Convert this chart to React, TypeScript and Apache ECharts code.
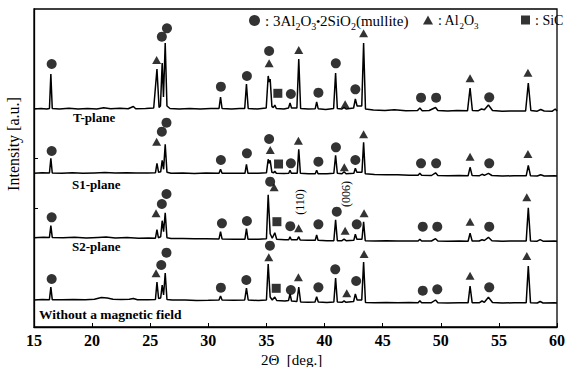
import React, { useEffect, useRef } from "react";
import * as echarts from "echarts";

// ---------- data ----------
const X_MIN = 15;
const X_MAX = 60;
const X_STEP = 5;
const Y_MAX = 318;

const TRACE_NAMES = ["T-plane", "S1-plane", "S2-plane", "Without a magnetic field"];
const TRACE_OFFSETS = [218, 153.7, 89.3, 27];

// relative intensity [2θ, a.u.] for each pattern
const T_PTS: [number, number][] = [
  [15.0, 0], [15.6, 0.6], [16.1, 0], [16.33, 0.5], [16.45, 35], [16.57, 0.5], [17.2, 0], [18.0, 0.7], [18.8, 0],
  [19.6, 0.6], [20.4, 0], [21.0, 1.2], [21.6, 0.3], [22.4, 0.8], [23.1, 0.2], [23.55, 2.5], [23.75, 0.3], [24.6, 0.6],
  [25.3, 1], [25.58, 40], [25.76, 1.5], [25.88, 3], [26.03, 46], [26.14, 12], [26.29, 66], [26.44, 3], [26.7, 0.5],
  [27.5, 0], [28.4, 0.6], [29.3, 0], [30.2, 0.5], [30.92, 0.5], [31.05, 12], [31.18, 0.5], [32.0, 0], [32.7, 0.5],
  [33.13, 0.5], [33.28, 25], [33.43, 0.5], [34.2, 0], [34.98, 1], [35.15, 33], [35.24, 27], [35.32, 30], [35.47, 2.5],
  [35.6, 1.5], [35.72, 4], [35.85, 0.5], [36.5, 0], [36.9, 1], [37.03, 6], [37.16, 1], [37.62, 1], [37.78, 50],
  [37.94, 0.5], [38.6, 0], [39.2, 0.3], [39.32, 7], [39.45, 0.3], [40.1, -0.5], [40.78, 0.5], [40.95, 36], [41.1, 0.5],
  [41.5, 0], [41.68, 1.5], [41.85, 0], [42.5, 1], [42.65, 10], [42.8, 3], [43.2, 3], [43.36, 66], [43.52, 0],
  [44.2, -1], [45.2, -1.5], [46.0, -0.8], [47.0, -1.8], [48.0, -1.5], [48.2, 1], [48.4, -1.8], [49.0, -1.5],
  [49.55, 1.5], [49.75, -1.5], [50.6, -2], [51.4, -1.5], [52.3, -1.8], [52.52, 21], [52.72, -1.5], [53.2, -1.8],
  [53.5, 0], [53.75, -0.8], [54.1, 4], [54.45, -1.5], [55.3, -2.2], [56.3, -2], [57.3, -2], [57.53, 26],
  [57.75, -1.5], [58.3, -2.2], [58.6, -0.5], [58.9, -2], [59.6, -2.2], [59.85, 0], [60, -2],
];
const S1_PTS: [number, number][] = [
  [15, 0], [15.7, 0.5], [16.33, 0.3], [16.45, 15], [16.57, 0.3], [17.4, 0], [18.3, 0.6], [19.2, 0], [20.2, 0.4],
  [21.1, 0.8], [22.0, 0.2], [23.0, 0.6], [23.8, 0.2], [24.8, 0.4], [25.45, 0.5], [25.58, 10], [25.72, 1], [25.9, 1.5],
  [26.03, 13], [26.15, 4], [26.29, 29], [26.44, 1], [26.8, 0], [27.8, 0.3], [28.8, -0.3], [29.8, 0.2], [30.92, 0],
  [31.05, 4], [31.18, 0], [32.2, 0], [33.15, 0], [33.28, 9], [33.41, 0], [34.3, 0], [35.0, 0.5], [35.15, 14],
  [35.24, 10], [35.32, 13], [35.47, 1], [35.62, 0.5], [35.72, 2], [35.85, 0], [36.5, -0.3], [36.92, 0], [37.03, 3],
  [37.14, 0], [37.65, 0], [37.78, 24], [37.92, 0], [38.6, -0.5], [39.2, -0.5], [39.32, 3], [39.44, -0.5],
  [40.2, -0.5], [40.8, 0], [40.95, 18], [41.1, 0], [41.5, -0.5], [41.68, 1.5], [41.85, -0.5], [42.52, 0],
  [42.65, 5], [42.78, 1], [43.22, 1], [43.36, 31], [43.5, -0.5], [44.3, -1.2], [45.3, -1.5], [46.3, -1.5],
  [47.3, -2], [48.05, -2], [48.2, 0], [48.35, -2], [49.2, -2.2], [49.55, 0.5], [49.75, -2.2], [50.6, -2.5],
  [51.6, -2.3], [52.35, -2.5], [52.52, 6], [52.7, -2.3], [53.3, -2.5], [53.55, -1], [53.75, -2], [54.1, 0],
  [54.4, -2.2], [55.3, -2.7], [56.3, -2.5], [57.35, -2.5], [57.53, 8], [57.72, -2.5], [58.3, -2.7], [58.6, -1.5],
  [58.9, -2.7], [59.8, -2.5], [60, -2.7],
];
const S2_PTS: [number, number][] = [
  [15, 0], [15.8, 0.4], [16.33, 0.3], [16.45, 12], [16.57, 0.3], [17.5, 0], [18.5, 0.5], [19.5, -0.3], [20.5, 0.3],
  [21.2, 0.6], [22.0, -0.2], [23.0, 0.3], [24.0, -0.5], [24.9, -0.3], [25.45, -0.5], [25.58, 8], [25.7, 0],
  [25.9, 1], [26.03, 17], [26.15, 6], [26.29, 25], [26.44, 0], [26.8, -0.8], [27.8, -0.8], [28.8, -1], [29.8, -1],
  [30.92, -1.2], [31.05, 6], [31.18, -1.2], [32.2, -1.5], [33.15, -1.5], [33.28, 9], [33.41, -1.5], [34.3, -1.5],
  [35.0, -1], [35.15, 43], [35.32, 4], [35.5, -0.5], [35.72, 5], [35.88, -1.5], [36.6, -2], [36.92, -2], [37.03, 1],
  [37.14, -2], [37.65, -2], [37.78, 1], [37.9, -2.2], [38.6, -2.5], [39.2, -2.5], [39.32, 2.7], [39.44, -2.5],
  [40.2, -3], [40.8, -3], [40.95, 18], [41.1, -3], [41.5, -3], [41.68, -1.5], [41.85, -3], [42.52, -2.5],
  [42.65, 3.4], [42.78, -1.5], [43.22, -1.5], [43.36, 16], [43.5, -3], [44.3, -3.2], [45.3, -3], [46.3, -3.4],
  [47.3, -3.2], [48.05, -3.3], [48.2, -1.5], [48.35, -3.3], [49.2, -3.3], [49.55, -1], [49.75, -3.3], [50.6, -3.5],
  [51.6, -3.3], [52.35, -3.5], [52.52, 4.4], [52.7, -3.3], [53.3, -3.3], [53.55, -2], [53.75, -2.8], [54.1, 0.4],
  [54.4, -3], [55.3, -3.5], [56.3, -3.3], [57.35, -3.3], [57.53, 30], [57.72, -3.3], [58.3, -3.5], [58.55, -2],
  [58.8, -3.5], [59.8, -3.3], [60, -3.5],
];
const W_PTS: [number, number][] = [
  [15, 0], [15.7, 0.4], [16.33, 0.3], [16.45, 13], [16.57, 0.3], [17.4, 0.2], [18.4, 0.6], [19.4, 0.3], [20.2, 0.8],
  [20.8, 2.5], [21.3, 2], [21.8, 0.8], [22.5, 0.5], [23.2, 0.8], [23.55, 1.5], [23.9, 0.3], [24.8, 0.3],
  [25.45, 0.5], [25.58, 18], [25.72, 1.5], [25.9, 2], [26.03, 15], [26.15, 5], [26.29, 27], [26.44, 0.5], [26.9, 0],
  [28, 0], [29, -0.5], [30, -0.3], [30.92, 0], [31.05, 4], [31.18, 0], [32.2, -0.3], [33.13, 0], [33.28, 12],
  [33.43, 0], [34.3, -0.5], [35.0, 0], [35.15, 36], [35.32, 3], [35.5, 0], [35.72, 3], [35.88, -0.5], [36.6, -1],
  [36.9, -0.5], [37.03, 6], [37.16, -1], [37.62, -1.5], [37.78, 13], [37.94, -2], [38.6, -2.3], [39.18, -2],
  [39.32, 3.3], [39.46, -2], [40.2, -2.5], [40.8, -2], [40.95, 22], [41.1, -2], [41.5, -2.3], [41.68, -1],
  [41.85, -2.3], [42.5, -1.5], [42.65, 6], [42.8, 0], [43.2, 0], [43.36, 38], [43.52, -2.5], [44.3, -2.7],
  [45.3, -2.5], [46.3, -2.8], [47.3, -2.6], [48.05, -2.7], [48.2, -0.7], [48.35, -2.7], [49.2, -2.7], [49.55, 0],
  [49.75, -2.7], [50.6, -3], [51.6, -2.7], [52.35, -2.8], [52.52, 14], [52.7, -2.7], [53.3, -2.8], [53.55, -1],
  [53.75, -2.3], [54.1, 2.7], [54.45, -2.5], [55.3, -3], [56.3, -2.8], [57.35, -2.8], [57.53, 34], [57.72, -2.8],
  [58.3, -3], [58.55, -1.5], [58.8, -3], [59.8, -2.8], [60, -3],
];
const TRACE_PTS = [T_PTS, S1_PTS, S2_PTS, W_PTS];

// phase markers [2θ, height above the pattern's baseline]
const T_MULLITE: [number, number][] = [[16.52, 45], [26.0, 72.3], [26.44, 80.7], [31.08, 22.3], [33.32, 33], [35.23, 58], [37.1, 15], [39.47, 16.3], [40.97, 45.7], [42.65, 19.7], [48.3, 11.3], [49.6, 11.3], [54.17, 11.7]];
const T_AL2O3: [number, number][] = [[25.55, 49], [35.23, 45.7], [37.78, 59], [41.77, 4.7], [43.36, 75.7], [52.52, 30.7], [57.5, 36.3]];
const T_SIC: [number, number][] = [[35.98, 15.7]];

const S1_MULLITE: [number, number][] = [[16.52, 22.3], [26.0, 41.6], [26.4, 50.6], [31.08, 13.3], [33.32, 20], [35.23, 34.3], [37.1, 10], [39.47, 11.6], [40.98, 26], [42.65, 13.3], [48.3, 10], [49.6, 10], [54.17, 10]];
const S1_AL2O3: [number, number][] = [[25.55, 31.6], [35.33, 23.3], [37.75, 32.6], [41.7, 6], [43.36, 39], [52.52, 16.6], [57.5, 19.3]];
const S1_SIC: [number, number][] = [[36.04, 9.3]];

const S2_MULLITE: [number, number][] = [[16.52, 20.4], [26.0, 33.7], [26.4, 43.7], [31.17, 14.4], [33.32, 16.7], [35.32, 56], [37.05, 11.5], [39.47, 13.4], [41.05, 26], [42.77, 13.4], [48.45, 11], [49.7, 11], [54.17, 11]];
const S2_AL2O3: [number, number][] = [[25.5, 24.4], [35.66, 50.4], [37.77, 9.4], [41.77, 7], [43.4, 24.4], [52.52, 16], [57.4, 40.4]];
const S2_SIC: [number, number][] = [[35.9, 16]];

const W_MULLITE: [number, number][] = [[16.52, 21], [25.95, 35], [26.4, 47.3], [31.08, 12.3], [33.27, 20], [35.3, 54.3], [37.1, 10], [39.47, 12.7], [40.92, 30.7], [42.72, 19], [48.45, 9.3], [49.7, 10.7], [54.17, 12.7]];
const W_AL2O3: [number, number][] = [[25.5, 26.7], [35.2, 42.7], [37.75, 22.7], [41.91, 6.7], [43.4, 46], [52.52, 24.3], [57.4, 44]];
const W_SIC: [number, number][] = [[35.84, 11.7]];

const MULLITE = [T_MULLITE, S1_MULLITE, S2_MULLITE, W_MULLITE];
const AL2O3 = [T_AL2O3, S1_AL2O3, S2_AL2O3, W_AL2O3];
const SIC = [T_SIC, S1_SIC, S2_SIC, W_SIC];

const Y_TICKS = [119, 169, 219];

const FONT = "'Liberation Serif', 'Times New Roman', serif";

function shift(groups: [number, number][][]) {
  const out: [number, number][] = [];
  groups.forEach((g, i) => g.forEach(([x, y]) => out.push([x, y + TRACE_OFFSETS[i]])));
  return out;
}

export default function App() {
  const ref = useRef<HTMLDivElement>(null);
  useEffect(() => {
    if (!ref.current) return;
    const chart = echarts.init(ref.current, null, { renderer: "svg" });
    const rich = (size: number, sub: number) => ({
      s: { fontSize: sub, fontFamily: FONT, color: "#000", verticalAlign: "bottom", lineHeight: sub, padding: [0, 0, -3, 0] },
      d: { fontSize: size - 4, fontFamily: FONT, color: "#000", fontWeight: "bold" },
    });
    const legendBase = {
      top: 8,
      itemWidth: 11,
      itemHeight: 11,
      selectedMode: false,
    };
    const lineSeries = TRACE_PTS.map((pts, i) => ({
      name: TRACE_NAMES[i],
      type: "line",
      data: pts.map(([x, y]) => [x, y + TRACE_OFFSETS[i]]),
      symbol: "none",
      lineStyle: { color: "#000", width: 1.5 },
      silent: true,
      z: 2,
    }));
    const option: any = {
      animation: false,
      backgroundColor: "#fff",
      grid: { left: 34, right: 11, top: 9, bottom: 40, show: true, borderColor: "#000", borderWidth: 1.3,
        containLabel: false, outerBoundsMode: "none" },
      legend: [
        { ...legendBase, left: 244, data: [{ name: "mullite", icon: "circle" }],
          textStyle: { fontSize: 15, fontFamily: FONT, color: "#000", rich: rich(15, 10) },
          formatter: () => ": 3Al{s|2}O{s|3}{d|•}2SiO{s|2}(mullite)" },
        { ...legendBase, left: 418, data: [{ name: "Al2O3", icon: "triangle" }], itemWidth: 10, itemHeight: 9,
          textStyle: { fontSize: 14, fontFamily: FONT, color: "#000", rich: rich(14, 9) },
          formatter: () => ": Al{s|2}O{s|3}" },
        { ...legendBase, left: 516, data: [{ name: "SiC", icon: "rect" }], itemWidth: 9, itemHeight: 9,
          textStyle: { fontSize: 14, fontFamily: FONT, color: "#000" },
          formatter: () => ": SiC" },
      ],
      xAxis: {
        type: "value",
        min: X_MIN,
        max: X_MAX,
        interval: X_STEP,
        name: "2Θ  [deg.]",
        nameLocation: "middle",
        nameGap: 21,
        nameTextStyle: { fontSize: 15, fontFamily: FONT, color: "#000", padding: [0, 8, 0, 0] },
        axisLine: { lineStyle: { color: "#000", width: 1.3 } },
        axisTick: { inside: true, length: 4, lineStyle: { color: "#000", width: 1 } },
        axisLabel: { fontSize: 16, fontWeight: "bold", fontFamily: FONT, color: "#000", margin: 5 },
        splitLine: { show: false },
      },
      yAxis: {
        type: "value",
        min: 0,
        max: Y_MAX,
        axisLine: { show: true, lineStyle: { color: "#000", width: 1.3 } },
        axisTick: { show: true, inside: true, length: 4, customValues: Y_TICKS, lineStyle: { color: "#000" } },
        axisLabel: { show: false },
        splitLine: { show: false },
      },
      series: [
        ...lineSeries,
        { name: "mullite", type: "scatter", symbol: "circle", symbolSize: 10, data: shift(MULLITE),
          itemStyle: { color: "#000" }, z: 3, silent: true },
        { name: "Al2O3", type: "scatter", symbol: "triangle", symbolSize: [9, 8], data: shift(AL2O3),
          itemStyle: { color: "#000" }, z: 3, silent: true },
        { name: "SiC", type: "scatter", symbol: "rect", symbolSize: 9, data: shift(SIC),
          itemStyle: { color: "#000" }, z: 3, silent: true },
      ],
      graphic: [
        { type: "text", x: 13, y: 144, rotation: Math.PI / 2,
          style: { text: "Intensity [a.u.]", fontSize: 16, fontFamily: FONT, fill: "#000", align: "center", verticalAlign: "middle" } },
        { type: "text", x: 73, y: 117,
          style: { text: TRACE_NAMES[0], fontSize: 13, fontWeight: "bold", fontFamily: FONT, fill: "#000", verticalAlign: "middle" } },
        { type: "text", x: 72, y: 184,
          style: { text: TRACE_NAMES[1], fontSize: 13, fontWeight: "bold", fontFamily: FONT, fill: "#000", verticalAlign: "middle" } },
        { type: "text", x: 72, y: 246,
          style: { text: TRACE_NAMES[2], fontSize: 13, fontWeight: "bold", fontFamily: FONT, fill: "#000", verticalAlign: "middle" } },
        { type: "text", x: 39, y: 314,
          style: { text: TRACE_NAMES[3], fontSize: 13.5, fontWeight: "bold", fontFamily: FONT, fill: "#000", verticalAlign: "middle" } },
        { type: "text", x: 300, y: 202, rotation: Math.PI / 2,
          style: { text: "(110)", fontSize: 12, fontFamily: FONT, fill: "#000", align: "center", verticalAlign: "middle" } },
        { type: "text", x: 346, y: 194, rotation: Math.PI / 2,
          style: { text: "(006)", fontSize: 12, fontFamily: FONT, fill: "#000", align: "center", verticalAlign: "middle" } },
      ],
    };
    chart.setOption(option);
    return () => chart.dispose();
  }, []);
  return <div ref={ref} style={{ position: "absolute", left: 0, top: 0, width: 568, height: 367 }} />;
}
